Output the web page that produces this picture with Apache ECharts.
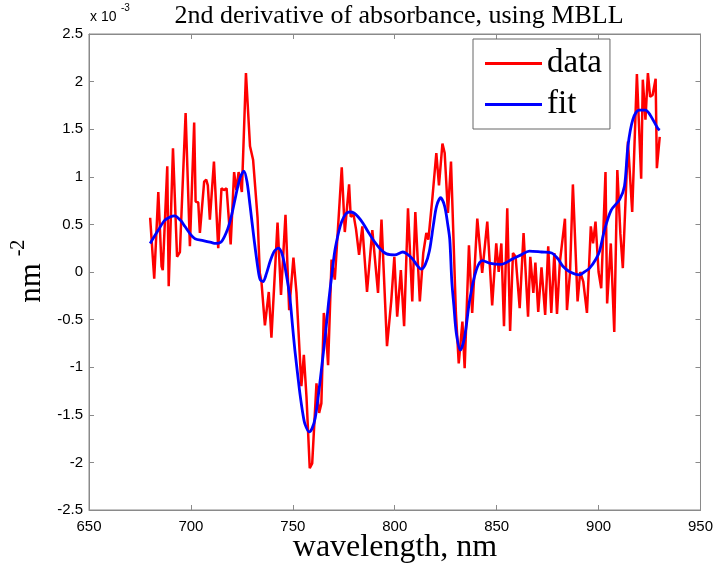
<!DOCTYPE html>
<html>
<head>
<meta charset="utf-8">
<script src="https://cdn.jsdelivr.net/npm/echarts@6/dist/echarts.min.js"></script>
<style>html,body{margin:0;padding:0;background:#fff;}#c{width:716px;height:576px;}</style>
</head>
<body>
<div id="c"></div>
<script>
// Values in units of 1e-3 nm^-2
var dataWl = [
  680,682,684,685.6,686.2,688.4,689.1,691.2,693.2,694.6,
  697.4,699.5,701.6,702.3,703.6,704.4,706.5,707.5,708.3,709.3,
  711.3,713.4,715,716.2,717.5,719.5,721.2,722.3,723.4,725,
  727,729,730.5,732.7,733.8,734.6,736.3,738.2,739.5,742.5,
  744.2,746.4,748.2,750.3,751.8,752.6,754.2,755.4,756.7,758.3,
  759.5,761.6,762.9,764,765.2,766.2,767.3,769,770.6,774,
  775.5,777.6,778.4,779.8,781,782.5,784.1,786.4,789,791.8,
  793.5,796.2,798.3,799.8,801.2,803,804.6,806.5,808.6,810.1,
  812.3,814,815.5,816.5,818.4,820.4,821.7,823.4,824.5,826.1,
  827.6,830,831.4,833.2,834.3,836.4,838,840.5,842.9,845.4,
  847.8,849.8,851,852.3,853.6,855.2,856.6,858,859.3,861.3,
  863.2,865.4,866.5,868,869,870.4,872,873.8,875.3,876.8,
  878.3,879.6,881,883.5,884.5,886,887.4,889.7,891,892.5,
  894.3,896.2,897.3,898.5,900,901.3,903.4,904.2,906,907.7,
  909.2,910.7,911.9,914.4,916.5,918.8,920.9,921.7,923,924.2,
  925.3,926.5,928,928.6,930
];
var dataVal = [
  0.57,-0.07,0.84,0.06,0.02,1.11,-0.15,1.30,0.16,0.21,
  1.67,0.27,1.57,0.74,0.73,0.41,0.95,0.97,0.91,0.55,
  1.16,0.25,0.88,0.86,0.88,0.29,1.05,0.86,1.05,0.84,
  2.09,1.32,1.18,0.57,-0.01,-0.10,-0.56,-0.21,-0.69,0.52,
  -0.24,0.60,-0.40,0.15,-0.22,-0.22,-1.20,-0.87,-1.31,-2.06,
  -2.01,-1.17,-1.48,-1.38,-0.43,-0.60,-0.98,0.13,-0.08,1.10,
  0.42,0.92,0.58,0.60,0.45,0.18,0.48,-0.21,0.44,-0.22,
  0.55,-0.78,-0.30,0.16,-0.47,0.02,-0.57,0.67,-0.31,0.63,
  -0.31,0.20,0.41,0.34,0.76,1.25,0.91,1.35,1.25,0.62,
  1.16,-0.43,-0.96,-0.52,-1.01,0.28,-0.43,0.56,-0.01,0.53,
  -0.35,0.30,0.00,0.30,-0.57,0.67,-0.62,0.20,0.16,-0.38,
  0.41,-0.47,0.16,-0.22,0.10,-0.42,0.05,-0.45,0.27,-0.43,
  0.20,-0.44,0.10,0.56,-0.40,0.00,0.92,-0.31,0.00,-0.10,
  -0.43,0.48,0.30,0.53,0.00,-0.17,1.05,-0.33,0.30,-0.63,
  1.07,0.40,0.04,1.37,0.63,2.08,0.98,2.02,1.60,2.09,
  1.84,1.86,2.03,1.09,1.42
];
var fitWl = [
  680,684,687,690,692,695,697,700,702,706,
  710,712,715,718,720,722,724,726,727.5,729,
  731,733,734,735.4,737,739,741,743,745,747,
  748.5,750,751,752.5,753.5,755,756,758,759.5,761,
  762.5,764,766,767.5,769,770.6,772.5,774,776,778,
  780,782,784.5,787,790,793,796,800,804,806,
  808.6,811,813,815,817,819,820.5,822.5,824.5,826,
  827,828,829,830.2,832.2,834.3,836.8,840,843,847,
  852,858,862,866,872,877,880,882.5,886,890.7,
  893,895.6,898.8,900.5,902.9,906.2,910.3,912.7,914.4,916.8,
  919.8,923,925.3,929,930
];
var fitVal = [
  0.30,0.44,0.54,0.58,0.59,0.54,0.48,0.39,0.35,0.33,
  0.31,0.30,0.32,0.45,0.60,0.80,0.98,1.06,0.95,0.70,
  0.34,0.02,-0.08,-0.10,-0.02,0.12,0.22,0.25,0.17,-0.05,
  -0.26,-0.60,-0.82,-1.10,-1.28,-1.50,-1.60,-1.68,-1.64,-1.53,
  -1.30,-1.03,-0.65,-0.33,-0.05,0.22,0.42,0.53,0.61,0.63,
  0.62,0.58,0.51,0.42,0.32,0.24,0.19,0.18,0.21,0.19,
  0.14,0.07,0.03,0.08,0.22,0.50,0.69,0.78,0.69,0.50,
  0.34,-0.10,-0.35,-0.64,-0.82,-0.68,-0.29,0.02,0.12,0.09,
  0.08,0.14,0.18,0.22,0.21,0.20,0.14,0.06,0.00,-0.03,
  0.00,0.04,0.14,0.22,0.44,0.65,0.76,0.90,1.32,1.60,
  1.70,1.70,1.65,1.51,1.49
];
var xTicks = [650,700,750,800,850,900,950];
var yTicks = [-2.5,-2,-1.5,-1,-0.5,0,0.5,1,1.5,2,2.5];

function pairs(xs, ys){ var o=[]; for(var i=0;i<xs.length;i++){o.push([xs[i],ys[i]]);} return o; }

var chart = echarts.init(document.getElementById('c'), null, {renderer:'canvas'});
var axisGray = '#8a8a8a';
var serif = '"Liberation Serif","Times New Roman",serif';
var sans = '"Liberation Sans",Arial,sans-serif';
function xAx(pos, showLabel){
  return {type:'value', position:pos, min:xTicks[0], max:xTicks[xTicks.length-1], interval:50,
    axisLine:{show:true,onZero:false,lineStyle:{color:axisGray,width:1}}, splitLine:{show:false},
    axisTick:{show:true,inside:true,length:5,lineStyle:{color:axisGray}},
    axisLabel:{show:showLabel,color:'#000',fontFamily:sans,fontSize:15,margin:9,
      formatter:function(v){return String(v);}}};
}
function yAx(pos, showLabel){
  return {type:'value', position:pos, min:yTicks[0], max:yTicks[yTicks.length-1], interval:0.5,
    axisLine:{show:true,onZero:false,lineStyle:{color:axisGray,width:1}}, splitLine:{show:false},
    axisTick:{show:true,inside:true,length:5,lineStyle:{color:axisGray}},
    axisLabel:{show:showLabel,color:'#000',fontFamily:sans,fontSize:15,margin:6,
      formatter:function(v){return String(Math.round(v*10)/10);}}};
}

chart.setOption({
  animation:false,
  backgroundColor:'#fff',
  title:{text:'2nd derivative of absorbance, using MBLL', left:394, textAlign:'center', top:-2,
    textStyle:{fontFamily:serif,fontWeight:'normal',fontSize:26,color:'#000'}},
  grid:{left:89, top:34, width:612, height:476, show:true, borderColor:axisGray, borderWidth:1, backgroundColor:'transparent'},
  legend:{show:true, left:473, top:39, orient:'vertical', itemWidth:57, itemHeight:3, itemGap:8,
    padding:[8,8,8,12], borderColor:'#666', borderWidth:1, backgroundColor:'#fff',
    icon:'rect',
    textStyle:{fontFamily:serif,fontSize:33,color:'#000',lineHeight:33},
    data:['data','fit']},
  xAxis:[xAx('bottom', true), xAx('top', false)],
  yAxis:[yAx('left', true), yAx('right', false)],
  graphic:[
    {type:'text', left:90, top:10, style:{text:'x 10', fontFamily:sans, fontSize:14, fill:'#000'}},
    {type:'text', left:121, top:3, style:{text:'-3', fontFamily:sans, fontSize:10, fill:'#000'}},
    {type:'text', x:395, y:548, style:{text:'wavelength, nm', fontFamily:serif, fontSize:32, fill:'#000', align:'center', verticalAlign:'middle'}},
    {type:'text', x:32, y:283, rotation:Math.PI/2, style:{text:'nm', fontFamily:serif, fontSize:31, fill:'#000', align:'center', verticalAlign:'middle'}},
    {type:'text', x:19, y:248, rotation:Math.PI/2, style:{text:'-2', fontFamily:serif, fontSize:20, fill:'#000', align:'center', verticalAlign:'middle'}}
  ],
  series:[
    {name:'data', type:'line', xAxisIndex:0, yAxisIndex:0, data:pairs(dataWl,dataVal), symbol:'none',
      lineStyle:{color:'#ff0000', width:2.5}, itemStyle:{color:'#ff0000'}},
    {name:'fit', type:'line', xAxisIndex:0, yAxisIndex:0, data:pairs(fitWl,fitVal), symbol:'none', smooth:0.3,
      lineStyle:{color:'#0000ff', width:2.8}, itemStyle:{color:'#0000ff'}}
  ]
});
</script>
</body>
</html>
